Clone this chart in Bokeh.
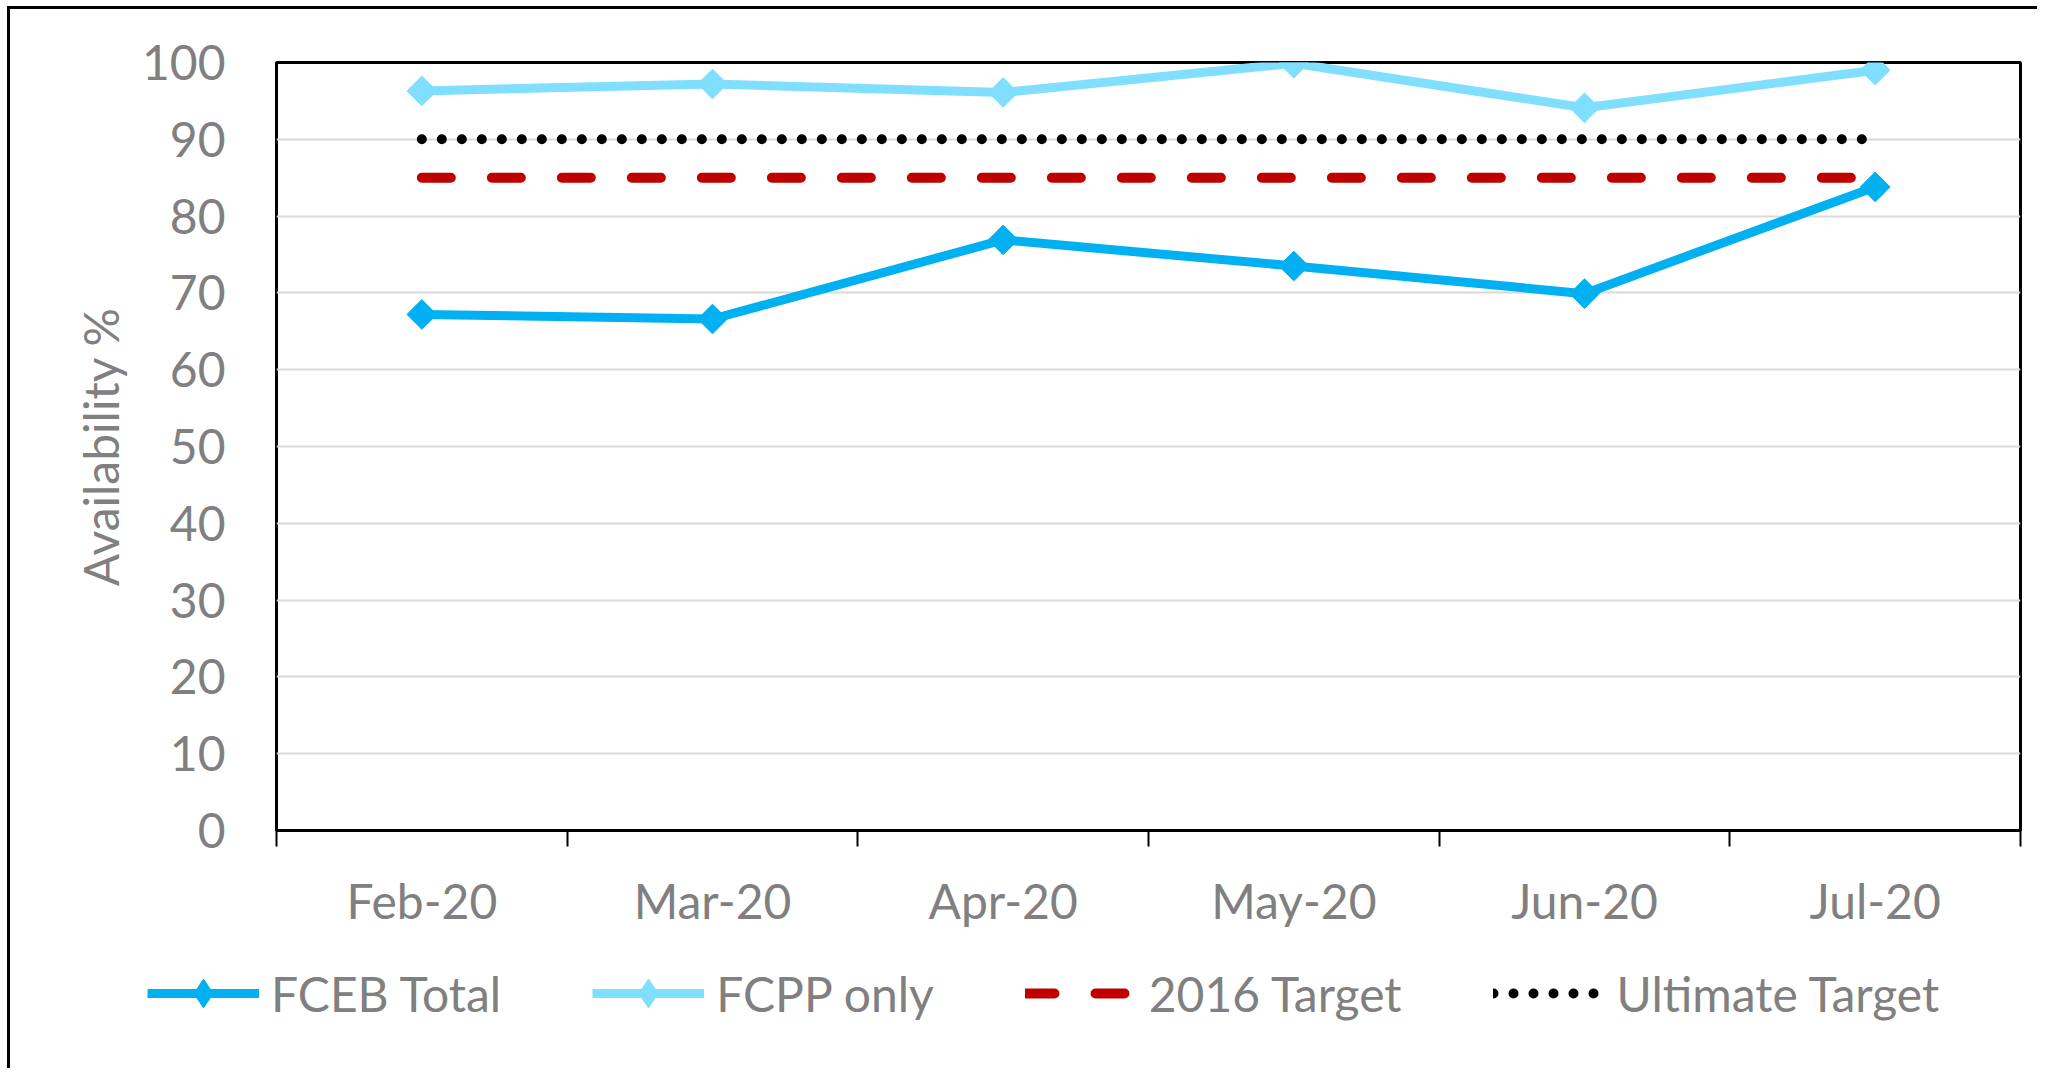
import math
from bokeh.plotting import figure
from bokeh.models import Range1d, FixedTicker, Legend, LegendItem, ColumnDataSource
from bokeh.embed import file_html
from bokeh.resources import INLINE

months = ["Feb-20", "Mar-20", "Apr-20", "May-20", "Jun-20", "Jul-20"]
fceb_total = [67.2, 66.6, 76.9, 73.5, 69.9, 83.8]
fcpp_only = [96.3, 97.2, 96.1, 99.9, 94.1, 99.0]
target_2016 = [85, 85, 85, 85, 85, 85]
ultimate_target = [90, 90, 90, 90, 90, 90]
y_ticks = [0, 10, 20, 30, 40, 50, 60, 70, 80, 90, 100]
series_labels = ["FCEB Total", "FCPP only", "2016 Target", "Ultimate Target"]

FONT = "Lato"
FS = "48px"
GREY = "#808080"
C_FCEB = "#00B0F0"
C_FCPP = "#80DFFF"
C_T16 = "#C00000"
C_ULT = "black"
BORDER = "3px solid #000"

xpos = [i + 0.5 for i in range(len(months))]
src = ColumnDataSource(dict(x=xpos, fceb=fceb_total, fcpp=fcpp_only,
                            t16=target_2016, ult=ultimate_target))

W = 2030
p = figure(width=W, height=922, output_backend="svg", toolbar_location=None,
           x_range=Range1d(0, len(months)), y_range=Range1d(0, 100),
           min_border_left=266, min_border_top=53, min_border_right=20, min_border_bottom=100)
p.margin = (6, 0, 0, 7)
p.styles = {"border-left": BORDER, "border-top": BORDER}

p.outline_line_color = "black"
p.outline_line_width = 3
p.xgrid.grid_line_color = None
p.ygrid.grid_line_color = "#D9D9D9"
p.ygrid.grid_line_width = 2

# y axis
p.yaxis.ticker = FixedTicker(ticks=y_ticks)
p.yaxis.axis_line_color = None
p.yaxis.major_tick_line_color = None
p.yaxis.minor_tick_line_color = None
p.yaxis.major_tick_out = 0
p.yaxis.major_tick_in = 0
p.yaxis.major_label_standoff = 51
p.yaxis.major_label_text_font = FONT
p.yaxis.major_label_text_font_size = FS
p.yaxis.major_label_text_color = GREY
p.yaxis.axis_label = "Availability %"
p.yaxis.axis_label_text_font = FONT
p.yaxis.axis_label_text_font_size = FS
p.yaxis.axis_label_text_font_style = "normal"
p.yaxis.axis_label_text_color = GREY
p.yaxis.axis_label_standoff = 10

# x axis
p.xaxis.ticker = FixedTicker(ticks=xpos, minor_ticks=list(range(len(months) + 1)))
p.xaxis.major_label_overrides = {x: m for x, m in zip(xpos, months)}
p.xaxis.axis_line_color = "black"
p.xaxis.axis_line_width = 3
p.xaxis.major_tick_line_color = None
p.xaxis.major_tick_out = 0
p.xaxis.major_tick_in = 0
p.xaxis.minor_tick_line_color = "black"
p.xaxis.minor_tick_line_width = 2
p.xaxis.minor_tick_out = 16
p.xaxis.minor_tick_in = 0
p.xaxis.major_label_standoff = 25
p.xaxis.major_label_text_font = FONT
p.xaxis.major_label_text_font_size = FS
p.xaxis.major_label_text_color = GREY


def draw_series(fig, source, marker, size, angle):
    kw = dict(source=source)
    mk = dict(marker=marker, size=size, angle=angle)
    l1 = fig.line("x", "fceb", line_color=C_FCEB, line_width=9, line_join="round", **kw)
    s1 = fig.scatter("x", "fceb", fill_color=C_FCEB, line_color=C_FCEB, **mk, **kw)
    l2 = fig.line("x", "fcpp", line_color=C_FCPP, line_width=9, line_join="round", **kw)
    s2 = fig.scatter("x", "fcpp", fill_color=C_FCPP, line_color=C_FCPP, **mk, **kw)
    l3 = fig.line("x", "t16", line_color=C_T16, line_width=10,
                  line_dash="29 41", line_cap="round", **kw)
    l4 = fig.line("x", "ult", line_color=C_ULT, line_width=10,
                  line_dash="0 20", line_cap="round", **kw)
    return [[l1, s1], [l2, s2], [l3], [l4]]


# diamonds in the chart: squares turned by 45 degrees
draw_series(p, src, "square", 21, math.pi / 4)

# legend strip below the chart (its own root so its frame spans the full width;
# the y range keeps the copies of the series out of view)
p2 = figure(width=W, height=140, output_backend="svg", toolbar_location=None,
            x_range=Range1d(0, len(months)), y_range=Range1d(-2, -1), min_border=0)
p2.margin = (0, 0, 0, 7)
p2.styles = {"border-left": BORDER}
p2.outline_line_color = None
p2.axis.visible = False
p2.grid.grid_line_color = None
groups = draw_series(p2, src, "diamond", 30, 0)

legend = Legend(items=[LegendItem(label=lab, renderers=r) for lab, r in zip(series_labels, groups)],
                orientation="horizontal", location=(137, 39))
legend.glyph_width = 112
legend.glyph_height = 72
legend.label_standoff = 12
legend.spacing = 91
legend.padding = 0
legend.margin = 0
legend.border_line_color = None
legend.background_fill_alpha = 0
legend.label_text_font = FONT
legend.label_text_font_size = FS
legend.label_text_color = GREY
p2.add_layout(legend, "center")

open("out.html", "w").write(file_html([p, p2], INLINE))
